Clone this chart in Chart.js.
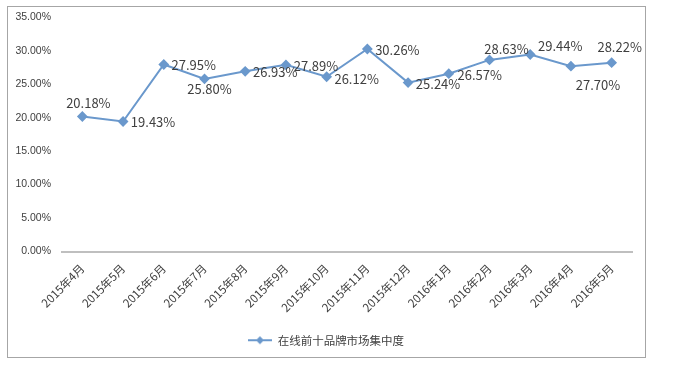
<!DOCTYPE html>
<html>
<head>
<meta charset="utf-8">
<script src="https://cdn.jsdelivr.net/npm/chart.js@4/dist/chart.umd.min.js"></script>
<style>
html,body{margin:0;padding:0;background:#fff;}
#wrap{position:relative;width:687px;height:368px;}
</style>
</head>
<body>
<div id="wrap"><canvas id="c" width="687" height="368"></canvas></div>
<script>
const categories = ['2015年4月','2015年5月','2015年6月','2015年7月','2015年8月','2015年9月','2015年10月','2015年11月','2015年12月','2016年1月','2016年2月','2016年3月','2016年4月','2016年5月'];
const seriesName = '在线前十品牌市场集中度';
const concentration = [20.18, 19.43, 27.95, 25.80, 26.93, 27.89, 26.12, 30.26, 25.24, 26.57, 28.63, 29.44, 27.70, 28.22];
const yTicks = [0, 5, 10, 15, 20, 25, 30, 35];

// label placement offsets (relative to each point), styling only
const labelOffsets = [[6,-13],[30,1],[30,1],[5,10],[30,1],[30,1],[30,2],[30,1],[30,1],[31,1],[17,-11],[30,-8],[27,19],[8,-16]];

const lineColor = '#6A98CC';

// legend marker: line with diamond
const mk = document.createElement('canvas');
mk.width = 24; mk.height = 10;
(function(){
  const g = mk.getContext('2d');
  g.strokeStyle = lineColor; g.lineWidth = 2;
  g.beginPath(); g.moveTo(0,5); g.lineTo(24,5); g.stroke();
  g.fillStyle = lineColor;
  g.beginPath(); g.moveTo(12,1); g.lineTo(16,5); g.lineTo(12,9); g.lineTo(8,5); g.closePath(); g.fill();
})();

const frame = {
  id: 'frame',
  afterLayout(chart){
    if (chart.legend) { chart.legend.left += 6; chart.legend.right += 6; }
  },
  beforeDraw(chart){
    const ctx = chart.ctx;
    ctx.save();
    ctx.strokeStyle = '#A6A6A6';
    ctx.lineWidth = 1;
    ctx.strokeRect(7.5, 6.5, 638, 351);
    ctx.restore();
  }
};

const dataLabels = {
  id: 'dataLabels',
  afterDatasetsDraw(chart){
    const ctx = chart.ctx;
    const meta = chart.getDatasetMeta(0);
    ctx.save();
    ctx.font = '13px "Noto Sans CJK SC", "Liberation Sans", sans-serif';
    ctx.fillStyle = '#404040';
    ctx.textAlign = 'center';
    ctx.textBaseline = 'middle';
    meta.data.forEach((pt, i) => {
      const off = labelOffsets[i];
      ctx.fillText(concentration[i].toFixed(2) + '%', pt.x + off[0], pt.y + off[1]);
    });
    ctx.restore();
  }
};

new Chart(document.getElementById('c'), {
  type: 'line',
  data: {
    labels: categories,
    datasets: [{
      label: seriesName,
      data: concentration,
      borderColor: lineColor,
      backgroundColor: lineColor,
      borderWidth: 2,
      pointStyle: 'rectRot',
      pointRadius: 4,
      pointBackgroundColor: lineColor,
      pointBorderColor: lineColor,
      tension: 0,
      fill: false
    }]
  },
  options: {
    responsive: false,
    animation: false,
    layout: { padding: { left: 8, top: 15, right: 55, bottom: 12 } },
    plugins: {
      legend: {
        position: 'bottom',
        labels: {
          color: '#404040',
          font: { family: '"Noto Sans CJK SC", sans-serif', size: 11.5 },
          usePointStyle: true,
          pointStyleWidth: 24,
          generateLabels(chart){
            return [{ text: seriesName, pointStyle: mk, fillStyle: lineColor, strokeStyle: lineColor, lineWidth: 0, hidden: false, datasetIndex: 0, fontColor: '#404040' }];
          },
          padding: 10
        }
      },
      tooltip: { enabled: false }
    },
    scales: {
      x: {
        offset: true,
        grid: { display: false, drawTicks: false, offset: true },
        border: { display: true, color: '#BFBFBF', width: 2 },
        ticks: {
          color: '#404040',
          font: { family: '"Noto Sans CJK SC", sans-serif', size: 11.5 },
          maxRotation: 45, minRotation: 45,
          autoSkip: false,
          padding: 10
        },
        afterFit(scale){ scale.height = 73; }
      },
      y: {
        min: 0, max: 35,
        afterBuildTicks(scale){ scale.ticks = yTicks.map(v => ({ value: v })); },
        grid: { display: false, drawTicks: false },
        border: { display: false },
        ticks: {
          color: '#404040',
          font: { family: '"Liberation Sans", Arial, sans-serif', size: 10.5 },
          padding: 11,
          callback: v => v.toFixed(2) + '%'
        },
        afterFit(scale){ scale.width = 54; }
      }
    }
  },
  plugins: [frame, dataLabels]
});
</script>
</body>
</html>
